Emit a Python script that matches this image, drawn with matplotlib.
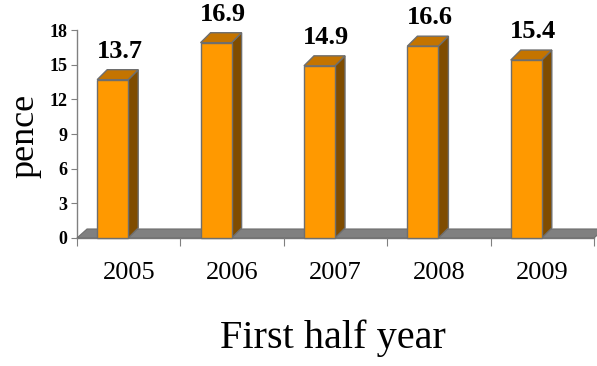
import matplotlib
matplotlib.use('Agg')
import matplotlib.pyplot as plt
from matplotlib.patches import Polygon

plt.rcParams['font.family'] = ['Liberation Serif', 'DejaVu Serif']

# 상반기 요금 (pence)
years = ['2005', '2006', '2007', '2008', '2009']
pence = [13.7, 16.9, 14.9, 16.6, 15.4]

front_col = '#FF9900'
top_col = '#C47400'
side_col = '#7F4C00'
edge_col = '#6E6E6E'
floor_col = '#808080'

fig = plt.figure(figsize=(5.97, 3.66), dpi=100)
ax = fig.add_axes([77/597, 128/366, 517/597, 208/366])
ax.set_xlim(0, 5)
ax.set_ylim(0, 18)

# 3D 깊이 (데이터 단위)
dx = 0.097
dy = 0.865
floor_dy = 0.78

# 바닥 면
floor = Polygon([(0, 0), (5, 0), (5 + dx, floor_dy), (dx, floor_dy)],
                closed=True, facecolor=floor_col, edgecolor=edge_col,
                linewidth=0.8, clip_on=False, zorder=1)
ax.add_patch(floor)

w = 0.30
off = 0.195
for i, v in enumerate(pence):
    x0 = i + off
    x1 = x0 + w
    ax.bar(x0, v, width=w, align='edge', color=front_col,
           edgecolor=edge_col, linewidth=1, zorder=3, clip_on=False)
    side = Polygon([(x1, 0), (x1 + dx, dy), (x1 + dx, v + dy), (x1, v)],
                   closed=True, facecolor=side_col, edgecolor=edge_col,
                   linewidth=1, zorder=2, clip_on=False)
    top = Polygon([(x0, v), (x1, v), (x1 + dx, v + dy), (x0 + dx, v + dy)],
                  closed=True, facecolor=top_col, edgecolor=edge_col,
                  linewidth=1, zorder=2, clip_on=False)
    ax.add_patch(side)
    ax.add_patch(top)
    ax.text(x0 + w / 2 + dx * 0.7, v + dy + 0.6, f'{v:.1f}',
            ha='center', va='bottom', fontsize=19, fontweight='bold',
            clip_on=False)

for s in ['top', 'right']:
    ax.spines[s].set_visible(False)
for s in ['left', 'bottom']:
    ax.spines[s].set_color(floor_col)
    ax.spines[s].set_linewidth(1)
    ax.spines[s].set_zorder(0)

ax.set_yticks(range(0, 19, 3))
ax.tick_params(axis='y', length=4, color=floor_col, pad=3,
               labelsize=13)
for lab in ax.get_yticklabels():
    lab.set_fontweight('bold')

ax.set_xticks(range(6))
ax.set_xticklabels([])
ax.set_xticks([i + 0.5 for i in range(5)], minor=True)
ax.set_xticklabels(years, minor=True, fontsize=19)
ax.tick_params(axis='x', which='major', length=6, color=floor_col)
ax.tick_params(axis='x', which='minor', length=0, pad=17)

fig.text(25/597, 1 - 136/366, 'pence', rotation=90, ha='center',
         va='center', fontsize=26)
fig.text(333/597, (366 - 348)/366, 'First half year', ha='center',
         va='baseline', fontsize=29)

fig.savefig('out.png', dpi=100)
